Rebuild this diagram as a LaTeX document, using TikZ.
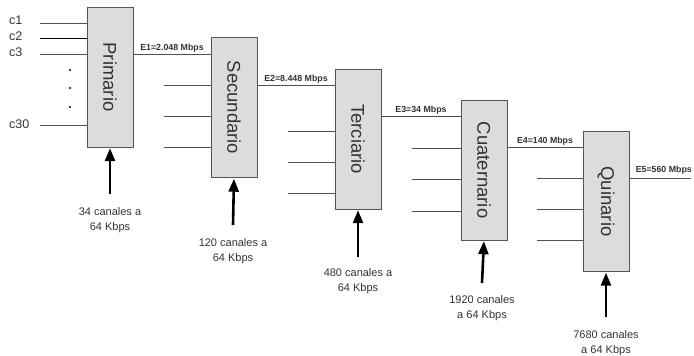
\documentclass[tikz,border=0pt]{standalone}
\usepackage{fontspec}
\setmainfont{Liberation Sans}
\usetikzlibrary{arrows.meta,calc}
\definecolor{boxfill}{HTML}{DCDCDC}
\definecolor{boxline}{HTML}{555555}
\definecolor{wirecol}{HTML}{505050}
\definecolor{txtcol}{HTML}{333333}
\tikzset{
  mux/.style={draw=boxline, fill=boxfill, minimum width=46pt, minimum height=140pt,
              inner sep=0pt},
  muxlabel/.style={rotate=-90, font=\fontsize{18.5}{20}\selectfont, text=txtcol},
  wire/.style={draw=wirecol, line width=0.8pt},
  feed/.style={-{Triangle[length=13pt, width=10pt]}, line width=2.6pt, shorten >=1pt},
  rate/.style={font=\fontsize{8.8}{9}\selectfont\bfseries, text=txtcol, inner sep=1pt},
  chan/.style={font=\fontsize{11}{15}\selectfont, text=txtcol, align=center, inner sep=1pt},
  clab/.style={font=\fontsize{12.5}{14}\selectfont, text=txtcol, anchor=west, inner sep=0pt},
}
\begin{document}
\begin{tikzpicture}[x=1pt, y=-1pt]
        \useasboundingbox (0,0) rectangle (694,356);
        % multiplexer boxes
        \node[mux] (prim) at (110,77) {};
        \node[mux] (sec) at (234,107.5) {};
        \node[mux] (ter) at (358,139) {};
        \node[mux] (cua) at (484,170) {};
        \node[mux] (qui) at (606,201.5) {};
        \node[muxlabel] at (prim) {Primario};
        \node[muxlabel] at (sec) {Secundario};
        \node[muxlabel] at (ter) {Terciario};
        \node[muxlabel] at (cua) {Cuaternario};
        \node[muxlabel] at (qui) {Quinario};
        % input channels of the first level
        \coordinate (c1) at (40,23);
        \coordinate (c2) at (40,38);
        \coordinate (c3) at (40,54);
        \coordinate (c30) at (40,125);
        \draw[wire] (c1) -- (c1 -| prim.west);
        \draw[draw=black, line width=0.8pt] (c2) -- (c2 -| prim.west);
        \draw[wire] (c3) -- (c3 -| prim.west);
        \draw[wire] (c30) -- (c30 -| prim.west);
        \node[clab] (l1) at (9,20) {c1};
        \node[clab] (l2) at (9,36) {c2};
        \node[clab] (l3) at (9,52) {c3};
        \node[clab] (l30) at (9,124) {c30};
        \foreach \y in {70,88,107}
          \fill (70,\y) circle (1.1pt);
        % tributaries of the higher levels
        \foreach \y in {85,116,147}
          \draw[wire] (164,\y) -- (sec.west |- 0,\y);
        \foreach \y in {131,162,193}
          \draw[wire] (288,\y) -- (ter.west |- 0,\y);
        \foreach \y in {148,179,211}
          \draw[wire] (412,\y) -- (cua.west |- 0,\y);
        \foreach \y in {178,209,240}
          \draw[wire] (537,\y) -- (qui.west |- 0,\y);
        % aggregate outputs
        \draw[wire] (prim.east |- 0,54) -- node[rate, above] (e1) {E1=2.048 Mbps} (sec.west |- 0,54);
        \draw[wire] (sec.east |- 0,85) -- node[rate, above] (e2) {E2=8.448 Mbps} (ter.west |- 0,85);
        \draw[wire] (ter.east |- 0,116) -- node[rate, above] (e3) {E3=34 Mbps} (cua.west |- 0,116);
        \draw[wire] (cua.east |- 0,147) -- node[rate, above] (e4) {E4=140 Mbps} (qui.west |- 0,147);
        \coordinate (out) at (691,178);
        \draw[wire] (qui.east |- out) -- (out);
        \node[rate, anchor=south east] (e5) at (693,176) {E5=560 Mbps};
        % channel feeds
        \coordinate (fa) at (110,194);
        \coordinate (fb) at (233,225);
        \coordinate (fc) at (358,257);
        \coordinate (fd) at (482,283);
        \coordinate (fe) at (606,317);
        \draw[feed] (fa) -- (prim.south);
        \draw[feed] (fb) -- (sec.south);
        \draw[feed] (fc) -- (ter.south);
        \draw[feed] (fd) -- (cua.south);
        \draw[feed] (fe) -- (qui.south);
        \node[chan, below=12pt] (na) at (fa) {34 canales a\\64 Kbps};
        \node[chan, below=12pt] (nb) at (fb) {120 canales a\\64 Kbps};
        \node[chan, below=10pt] (nc) at (fc) {480 canales a\\64 Kbps};
        \node[chan, below=11pt] (nd) at (fd) {1920 canales\\a 64 Kbps};
        \node[chan, below=12pt] (ne) at (fe) {7680 canales\\a 64 Kbps};
      \end{tikzpicture}
\end{document}
